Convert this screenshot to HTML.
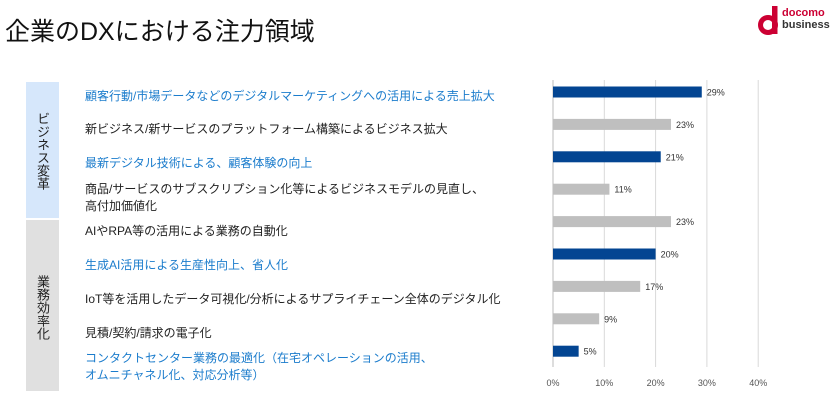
<!DOCTYPE html>
<html><head><meta charset="utf-8">
<style>
body{margin:0;width:838px;height:419px;background:#fff;font-family:"Liberation Sans","Noto Sans CJK JP",sans-serif;overflow:hidden;position:relative}
.t{position:absolute;white-space:nowrap}
.lbl{position:absolute;left:85px;font-size:12px;line-height:17px;color:#222;white-space:nowrap}
.blue{color:#1b7ccc}
</style></head><body>
<div class="t" style="left:5px;top:12px;font-size:25px;color:#111;">企業のDXにおける注力領域</div>
<div style="position:absolute;left:758px;top:5px;width:80px;height:32px">
<svg width="22" height="30" viewBox="0 0 22 30"><circle cx="10" cy="20" r="7.5" fill="none" stroke="#cc0033" stroke-width="5"/><rect x="14" y="1" width="5.5" height="28" fill="#cc0033"/></svg>
<div class="t" style="left:24px;top:3px;font-size:11px;font-weight:bold;color:#cc0033;line-height:11px">docomo</div>
<div class="t" style="left:24px;top:15px;font-size:11px;font-weight:bold;color:#333;line-height:11px">business</div>
</div>
<div style="position:absolute;left:26px;top:82px;width:33px;height:136px;background:#d6e7fb"></div>
<div class="t" style="left:35px;top:112px;font-size:13px;line-height:15px;writing-mode:vertical-rl;color:#222">ビジネス変革</div>
<div style="position:absolute;left:26px;top:220px;width:33px;height:171px;background:#e0e0e0"></div>
<div class="t" style="left:35px;top:275px;font-size:13px;line-height:15px;writing-mode:vertical-rl;color:#222">業務効率化</div>
<div id="labels"></div>
<svg id="chart" width="838" height="419" style="position:absolute;left:0;top:0"></svg>
<script>
const categories=["顧客行動/市場データなどのデジタルマーケティングへの活用による売上拡大","新ビジネス/新サービスのプラットフォーム構築によるビジネス拡大","最新デジタル技術による、顧客体験の向上","商品/サービスのサブスクリプション化等によるビジネスモデルの見直し、<br>高付加価値化","AIやRPA等の活用による業務の自動化","生成AI活用による生産性向上、省人化","IoT等を活用したデータ可視化/分析によるサプライチェーン全体のデジタル化","見積/契約/請求の電子化","コンタクトセンター業務の最適化（在宅オペレーションの活用、<br>オムニチャネル化、対応分析等）"];
const values=[29,23,21,11,23,20,17,9,5];
const highlighted=[true,false,true,false,false,true,false,false,true];
const ticks=[0,10,20,30,40];
const x=v=>553+v*5.13;
const y=i=>92+i*32.4;
const ly=i=>96+i*33.9;
const NS="http://www.w3.org/2000/svg";
const svg=document.getElementById('chart');
ticks.forEach(t=>{
 const l=document.createElementNS(NS,'line');
 
 
 l.setAttribute('x1',x(t));l.setAttribute('x2',x(t));l.setAttribute('y1',80);l.setAttribute('y2',367);
 l.setAttribute('stroke',t===0?'#bbb':'#d9d9d9');l.setAttribute('stroke-width',1);svg.appendChild(l);
 const tx=document.createElementNS(NS,'text');
 
 
 tx.setAttribute('x',x(t));tx.setAttribute('y',386);tx.setAttribute('text-anchor','middle');
 tx.setAttribute('font-size','9');tx.setAttribute('fill','#555');tx.textContent=t+'%';svg.appendChild(tx);
});
const lab=document.getElementById('labels');
values.forEach((v,i)=>{
 const r=document.createElementNS(NS,'rect');
 
 
 r.setAttribute('x',x(0));r.setAttribute('y',y(i)-5.5);r.setAttribute('width',x(v)-x(0));r.setAttribute('height',11);
 r.setAttribute('fill',highlighted[i]?'#034592':'#bfbfbf');svg.appendChild(r);
 const tx=document.createElementNS(NS,'text');
 
 
 tx.setAttribute('x',x(v)+5);tx.setAttribute('y',y(i)+3.5);tx.setAttribute('font-size','9');tx.setAttribute('fill','#333');
 tx.textContent=v+'%';svg.appendChild(tx);
 const d=document.createElement('div');
 
 
 d.className='lbl'+(highlighted[i]?' blue':'');
 const two=categories[i].includes('<br>');
 d.style.top=(two?ly(i)-17:ly(i)-8.5)+'px';
 d.innerHTML=categories[i];lab.appendChild(d);
});
</script>
</body></html>
